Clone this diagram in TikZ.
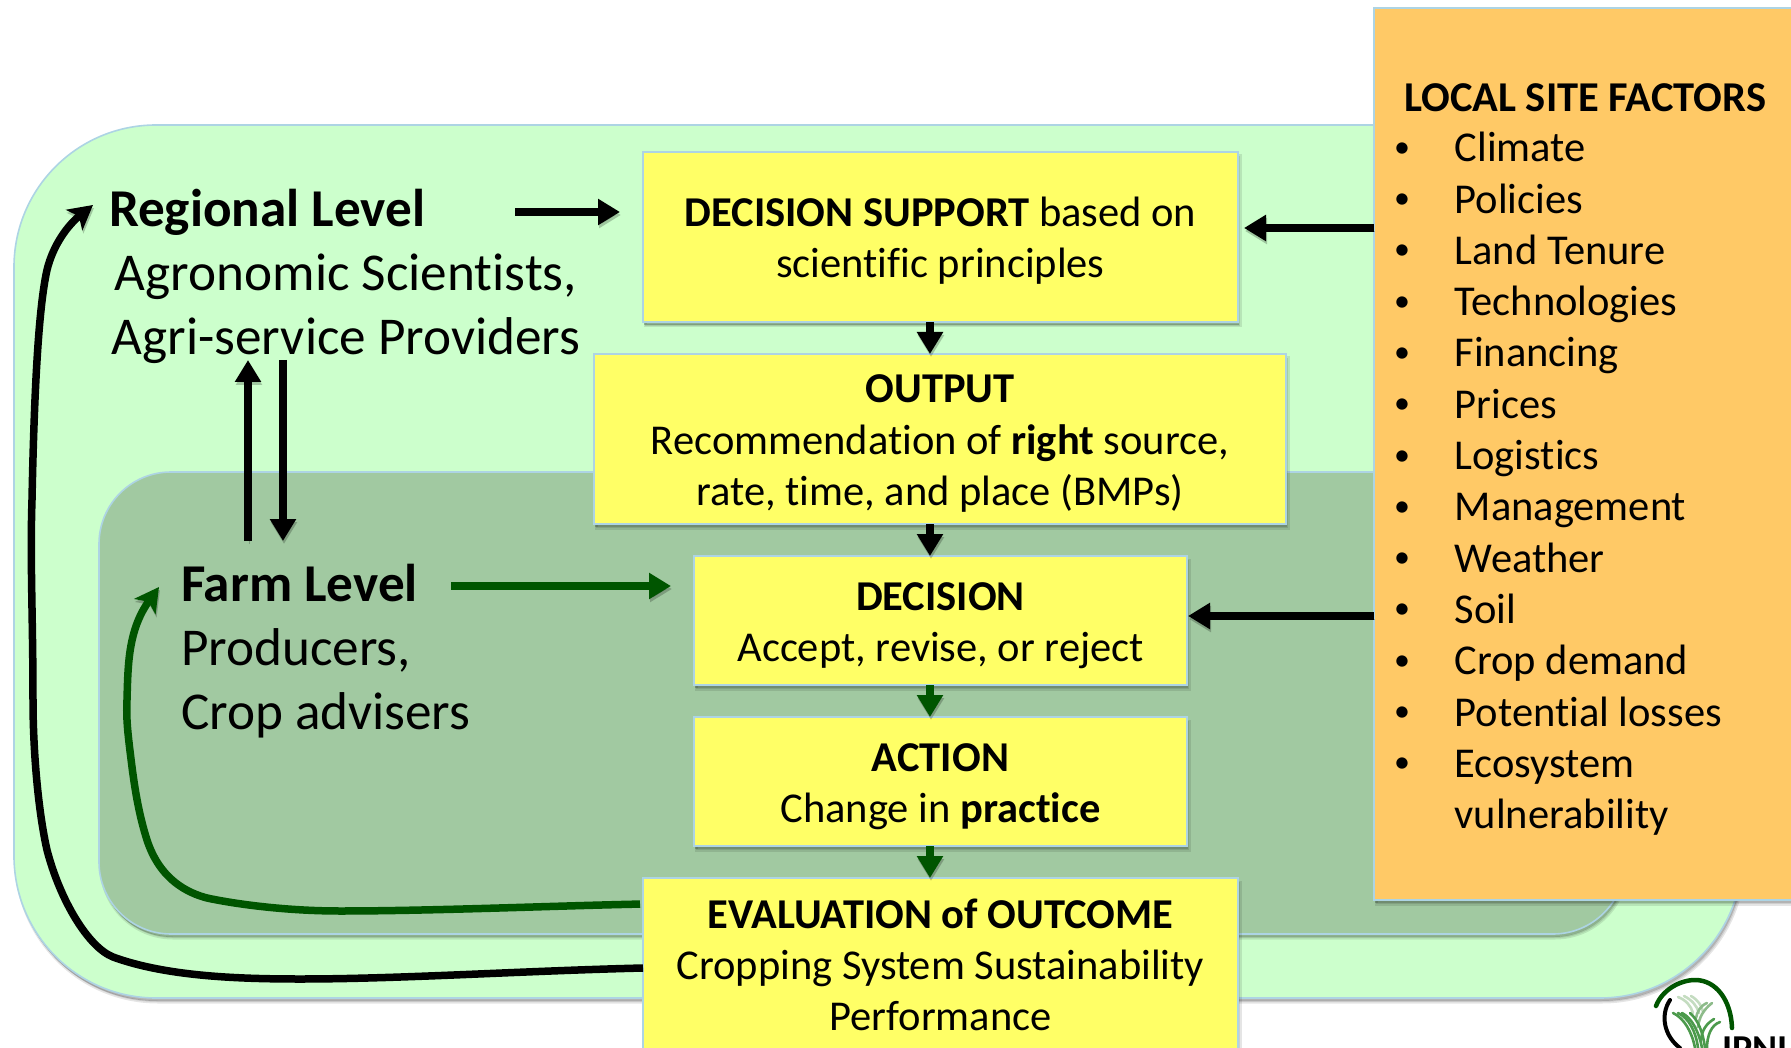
\documentclass[tikz,border=0pt]{standalone}
\usepackage{fontspec}
\setmainfont[RawFeature={-liga;-dlig;-clig}]{Carlito}
\usetikzlibrary{arrows.meta,calc}
\definecolor{outerg}{HTML}{CCFFCC}
\definecolor{innerg}{HTML}{A1C9A1}
\definecolor{boxy}{HTML}{FFFF66}
\definecolor{boxo}{HTML}{FFC966}
\definecolor{edgeb}{HTML}{ADD4E4}
\definecolor{darkg}{HTML}{005500}
\definecolor{grassa}{HTML}{C4DCC0}
\definecolor{grassb}{HTML}{8DBB8A}
\definecolor{grassc}{HTML}{4C9A4C}
\newcommand{\bul}{\hspace{-1pt}\makebox[60.5pt][l]{\raisebox{4.5pt}{\fontsize{32}{32}\selectfont •}}}
\tikzset{
  softsh/.style={preaction={fill=black,draw=black,line width=3pt,opacity=.10,transform canvas={shift={(2pt,-4pt)}}},
                 preaction={fill=black,opacity=.22,transform canvas={shift={(1pt,-3pt)}}}},
  panel/.style={rectangle,draw=edgeb,line width=1.6pt,softsh,inner sep=0pt,outer sep=0pt},
  yellowbox/.style={panel,fill=boxy},
  boxtext/.style={inner sep=0pt,outer sep=0pt,align=center,font=\fontsize{42.5}{51.3}\selectfont},
  leveltext/.style={inner sep=0pt,outer sep=0pt,align=left,font=\fontsize{53.2}{64}\selectfont},
  levelhead/.style={inner sep=0pt,outer sep=0pt,anchor=north west,font=\bfseries\fontsize{53.2}{64}\selectfont},
  conn/.style={line width=8.5pt,-{Triangle[length=22pt,width=25pt]}},
  stub/.style={line width=8.5pt,-{Triangle[length=22pt,width=25pt]}},
  curve/.style={line width=7.5pt,-{Stealth[length=24pt,width=26pt,inset=6pt]}},
  linesh/.style={preaction={draw=black,opacity=.22,transform canvas={shift={(1pt,-3pt)}}}},
  grass/.style={line width=2.6pt,line cap=round},
}
\begin{document}
\begin{tikzpicture}[x=1pt,y=-1pt]
\useasboundingbox (0,0) rectangle (1791,1048);
\clip (0,0) rectangle (1791,1048);

% logo
\draw[darkg,line width=4.5pt,line cap=round] (1656,1006) .. controls (1662,990) and (1680,980) .. (1695,980) .. controls (1716,980) and (1731,1000) .. (1732,1028);
\draw[black,line width=4pt,line cap=round] (1670,1000) .. controls (1660,1015) and (1664,1036) .. (1680,1048);
\draw[grassa,grass] (1678,997) .. controls (1686,1000) and (1691,1006) .. (1693,1013);
\draw[grassa,grass] (1684,996) .. controls (1692,1000) and (1697,1006) .. (1699,1013);
\draw[grassa,grass] (1691,996) .. controls (1698,1000) and (1702,1006) .. (1703,1012);
\draw[grassb,grass] (1707,1003) .. controls (1700,1006) and (1697,1012) .. (1696,1018);
\draw[grassb,grass] (1712,1003) .. controls (1703,1010) and (1699,1018) .. (1698,1027);
\draw[grassc,grass] (1673,1013) .. controls (1684,1018) and (1692,1032) .. (1695,1048);
\draw[grassc,grass] (1678,1013) .. controls (1689,1018) and (1696,1032) .. (1698,1048);
\draw[grassc,grass] (1682,1013) .. controls (1692,1018) and (1699,1032) .. (1702,1048);
\draw[grassc,grass] (1690,1013) .. controls (1698,1020) and (1703,1032) .. (1705,1048);
\draw[grassc,grass] (1720,1022) .. controls (1711,1025) and (1707,1036) .. (1707,1048);
\draw[grassc,grass] (1714,1019) .. controls (1706,1024) and (1702,1030) .. (1701,1040);
\node[inner sep=0pt,anchor=base west,font=\bfseries\fontsize{38}{38}\selectfont] (logotext) at (1722,1061) {IPNI};

% background panels
\node[panel,fill=outerg,rounded corners=142pt,minimum width=1728pt,minimum height=873pt] (outer) at (878,561.5) {};
\node[panel,fill=innerg,rounded corners=72pt,minimum width=1526pt,minimum height=462pt] (inner) at (862,703) {};

% yellow boxes
\node[yellowbox,minimum width=595pt,minimum height=170pt] (ds) at (940.5,237) {};
\node[yellowbox,minimum width=692pt,minimum height=170pt] (out) at (940,439) {};
\node[yellowbox,minimum width=493pt,minimum height=129pt] (dec) at (940.5,620.5) {};
\node[yellowbox,minimum width=493pt,minimum height=129pt] (act) at (940.5,781.5) {};
\node[yellowbox,minimum width=595pt,minimum height=174pt] (eval) at (940.5,965) {};
\node[boxtext] (dstext) at ([yshift=-4pt]ds.center) {\textbf{DECISION SUPPORT} based on\\scientific principles};
\node[boxtext] (outtext) at ([yshift=-4.5pt]out.center) {\textbf{OUTPUT}\\Recommendation of \textbf{right} source,\\rate, time, and place (BMPs)};
\node[boxtext] (dectext) at ([yshift=-5.5pt]dec.center) {\textbf{DECISION}\\Accept, revise, or reject};
\node[boxtext] (acttext) at ([yshift=-5.5pt]act.center) {\textbf{ACTION}\\Change in \textbf{practice}};
\node[boxtext] (evaltext) at (eval.center) {\textbf{EVALUATION of OUTCOME}\\Cropping System Sustainability\\Performance};

% local site factors
\node[panel,fill=boxo,minimum width=430pt,minimum height=892pt,anchor=north west] (lsf) at (1374,8) {};
\node[inner sep=0pt,anchor=base west,font=\bfseries\fontsize{42.5}{46}\selectfont] (lsfhead) at (1404,112) {LOCAL SITE FACTORS};
\node[inner sep=0pt,anchor=north west,align=left,font=\fontsize{42.5}{51.3}\selectfont] (lsflist) at (1395,132) {%
\bul Climate\\
\bul Policies\\
\bul Land Tenure\\
\bul Technologies\\
\bul Financing\\
\bul Prices\\
\bul Logistics\\
\bul Management\\
\bul Weather\\
\bul Soil\\
\bul Crop demand\\
\bul Potential losses\\
\bul Ecosystem\\
\makebox[59.5pt][l]{}vulnerability};

% level labels
\node[levelhead] (reg) at (109,189.5) {Regional Level};
\node[leveltext,anchor=north,align=center] (regsub) at (346,253.5) {Agronomic Scientists,\\Agri-service Providers};
\node[levelhead] (farm) at (181,564.5) {Farm Level};
\node[leveltext,anchor=north west] (farmsub) at (181,628.5) {Producers,\\Crop advisers};

% helper coordinates
\coordinate (rx) at (0,212);
\coordinate (rs) at (515,212);
\coordinate (fx) at (0,586);
\coordinate (fs) at (451,586);
\coordinate (d1) at (0,228);
\coordinate (d2) at (0,616);
\coordinate (vx) at (930,0);
\coordinate (up) at (248,0);
\coordinate (dn) at (283,0);
\coordinate (vt) at (0,360);
\coordinate (vb) at (0,541);
\coordinate (gy) at (0,904);
\coordinate (by) at (0,968);

% horizontal connectors
\draw[conn,black,linesh,shorten >=23pt] (rs) -- (ds.west |- rx);
\draw[conn,darkg,linesh,shorten >=23pt] (fs) -- (dec.west |- fx);
\draw[conn,black,linesh,shorten >=6pt] (lsf.west |- d1) -- (ds.east |- d1);
\draw[conn,black,linesh,shorten >=1pt] (lsf.west |- d2) -- (dec.east |- d2);

% vertical stubs
\draw[stub,black,linesh] (ds.south -| vx) -- (out.north -| vx);
\draw[stub,black,linesh] (out.south -| vx) -- (dec.north -| vx);
\draw[stub,darkg,linesh] (dec.south -| vx) -- (act.north -| vx);
\draw[stub,darkg,linesh] (act.south -| vx) -- (eval.north -| vx);

% regional/farm exchange
\draw[conn,black,linesh] (up |- vb) -- (up |- vt);
\draw[conn,black,linesh] (dn |- vt) -- (dn |- vb);

% feedback curves
\coordinate (g0) at (eval.west |- gy);
\coordinate (b0) at (eval.west |- by);
\coordinate (gtip) at (159,587);
\coordinate (btip) at (93,205);
\draw[curve,darkg,linesh,shorten <=3pt] (g0) .. controls (550,906) and (430,911) .. (340,911) .. controls (290,911) and (240,905) .. (207,898) .. controls (188,893) and (160,880) .. (147,840) .. controls (139,815) and (135,790) .. (132,767) .. controls (128,735) and (126,720) .. (127,700) .. controls (128,665) and (128,630) .. (gtip);
\draw[curve,black,linesh] (b0) .. controls (520,971) and (400,979) .. (300,979) .. controls (235,979) and (165,976) .. (113,957) .. controls (88,947) and (60,900) .. (47,850) .. controls (38,810) and (33,750) .. (33,700) .. controls (33,620) and (30,560) .. (32,500) .. controls (34,400) and (38,310) .. (47,270) .. controls (53,245) and (68,225) .. (btip);
\end{tikzpicture}
\end{document}
